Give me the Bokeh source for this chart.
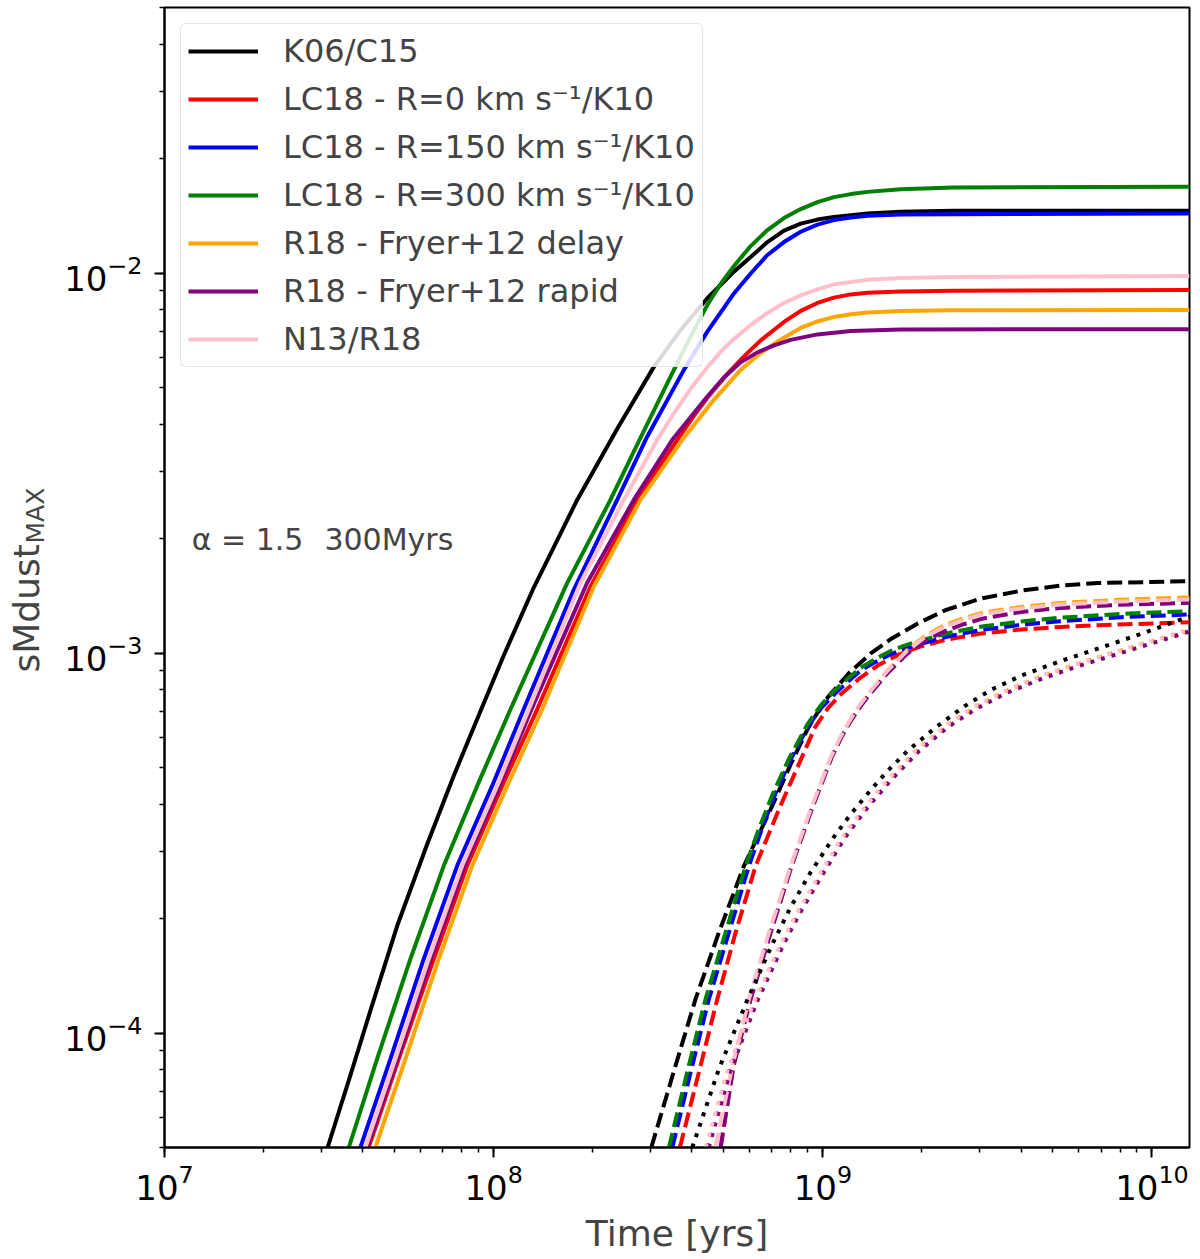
from bokeh.plotting import figure
from bokeh.models import Label, Title
from bokeh.embed import file_html
from bokeh.resources import INLINE

# values: time [yr] -> sMdust_MAX
# solid lines
t_k06 = [3.13e7, 3.67e7, 4.22e7, 5.09e7, 6.28e7, 7.56e7, 9.33e7, 1.073e8, 1.324e8, 1.795e8, 2.374e8, 3.067e8,
         3.70e8, 4.458e8, 5.37e8, 6.037e8, 6.785e8, 7.621e8, 8.567e8, 9.63e8, 1.081e9, 1.366e9, 1.725e9, 2.495e9, 1.3e10]
s_k06 = [5.0e-5, 7.74e-5, 1.144e-4, 1.913e-4, 3.14e-4, 4.75e-4, 7.38e-4, 9.86e-4, 1.488e-3, 2.534e-3, 3.894e-3, 5.666e-3,
         7.087e-3, 8.587e-3, 1.009e-2, 1.102e-2, 1.207e-2, 1.294e-2, 1.350e-2, 1.383e-2, 1.406e-2, 1.436e-2, 1.450e-2,
         1.459e-2, 1.459e-2]

t_lc0 = [4.171e7, 5.148e7, 6.576e7, 8.307e7, 1.061e8, 1.356e8, 1.969e8, 2.731e8, 3.613e8, 4.058e8, 4.458e8, 5.128e8,
         5.761e8, 6.475e8, 7.621e8, 8.567e8, 9.63e8, 1.081e9, 1.216e9, 1.366e9, 1.725e9, 2.495e9, 1.3e10]
s_lc0 = [5.0e-5, 8.56e-5, 1.567e-4, 2.756e-4, 4.472e-4, 7.114e-4, 1.497e-3, 2.534e-3, 3.642e-3, 4.212e-3, 4.697e-3, 5.431e-3,
         6.038e-3, 6.652e-3, 7.438e-3, 7.953e-3, 8.345e-3, 8.618e-3, 8.790e-3, 8.875e-3, 8.941e-3, 8.991e-3, 9.029e-3]

t_lc150 = [3.936e7, 4.857e7, 6.131e7, 7.745e7, 9.895e7, 1.234e8, 1.752e8, 2.374e8, 2.929e8, 3.784e8, 4.458e8, 5.37e8,
           6.037e8, 6.785e8, 7.621e8, 8.567e8, 9.63e8, 1.081e9, 1.216e9, 1.366e9, 1.725e9, 2.495e9, 1.3e10]
s_lc150 = [5.0e-5, 8.56e-5, 1.567e-4, 2.756e-4, 4.472e-4, 7.114e-4, 1.470e-3, 2.534e-3, 3.716e-3, 5.563e-3, 7.015e-3,
           8.84e-3, 9.976e-3, 1.116e-2, 1.207e-2, 1.285e-2, 1.342e-2, 1.379e-2, 1.400e-2, 1.415e-2, 1.427e-2, 1.429e-2,
           1.436e-2]

t_lc300 = [3.63e7, 4.425e7, 5.585e7, 7.053e7, 8.909e7, 1.125e8, 1.673e8, 2.265e8, 2.795e8, 3.528e8, 3.965e8, 4.458e8,
           4.892e8, 5.37e8, 6.037e8, 6.785e8, 7.621e8, 8.567e8, 9.63e8, 1.081e9, 1.216e9, 1.366e9, 1.725e9, 2.495e9, 1.3e10]
s_lc300 = [5.0e-5, 8.56e-5, 1.567e-4, 2.756e-4, 4.472e-4, 7.114e-4, 1.531e-3, 2.534e-3, 3.688e-3, 5.563e-3, 6.794e-3,
           8.245e-3, 9.363e-3, 1.044e-2, 1.178e-2, 1.298e-2, 1.396e-2, 1.474e-2, 1.538e-2, 1.585e-2, 1.614e-2, 1.636e-2,
           1.663e-2, 1.680e-2, 1.687e-2]

t_delay = [4.372e7, 5.395e7, 6.81e7, 8.603e7, 1.099e8, 1.404e8, 2.015e8, 2.795e8, 3.741e8, 4.668e8, 5.629e8, 6.384e8,
           7.278e8, 8.567e8, 9.63e8, 1.081e9, 1.216e9, 1.366e9, 1.725e9, 2.495e9, 1.3e10]
s_delay = [5.0e-5, 8.56e-5, 1.567e-4, 2.756e-4, 4.472e-4, 7.114e-4, 1.497e-3, 2.534e-3, 3.642e-3, 4.640e-3, 5.563e-3,
           6.110e-3, 6.604e-3, 7.174e-3, 7.460e-3, 7.668e-3, 7.798e-3, 7.879e-3, 7.953e-3, 7.985e-3, 7.998e-3]

t_rapid = [4.125e7, 5.101e7, 6.449e7, 8.151e7, 1.041e8, 1.303e8, 1.924e8, 2.667e8, 3.489e8, 4.458e8, 4.997e8, 5.629e8,
           6.325e8, 7.106e8, 7.988e8, 9.63e8, 1.216e9, 1.725e9, 1.3e10]
s_rapid = [5.0e-5, 8.56e-5, 1.567e-4, 2.756e-4, 4.472e-4, 7.114e-4, 1.531e-3, 2.534e-3, 3.642e-3, 4.733e-3, 5.302e-3,
           5.823e-3, 6.186e-3, 6.454e-3, 6.672e-3, 6.898e-3, 7.045e-3, 7.109e-3, 7.117e-3]

t_n13 = [4.076e7, 5.03e7, 6.35e7, 8.021e7, 1.025e8, 1.279e8, 1.836e8, 2.486e8, 3.141e8, 3.520e8, 3.965e8, 4.458e8,
         4.892e8, 5.248e8, 6.037e8, 6.785e8, 7.621e8, 8.567e8, 9.63e8, 1.081e9, 1.366e9, 1.725e9, 2.495e9, 1.3e10]
s_n13 = [5.0e-5, 8.56e-5, 1.567e-4, 2.756e-4, 4.472e-4, 7.114e-4, 1.531e-3, 2.534e-3, 3.642e-3, 4.264e-3, 4.960e-3,
         5.649e-3, 6.205e-3, 6.592e-3, 7.304e-3, 7.855e-3, 8.345e-3, 8.739e-3, 9.062e-3, 9.340e-3, 9.609e-3, 9.714e-3,
         9.772e-3, 9.826e-3]

# dashed lines
t_k06_dash = [3.012e8, 3.57e8, 4.106e8, 4.835e8, 5.761e8, 6.945e8, 7.988e8, 8.979e8, 9.65e8, 1.035e9, 1.207e9, 1.398e9,
              1.620e9, 1.943e9, 2.347e9, 3.021e9, 4.024e9, 5.289e9, 6.852e9, 1.3e10]
s_k06_dash = [5.0e-5, 8.22e-5, 1.23e-4, 1.842e-4, 2.756e-4, 3.884e-4, 5.101e-4, 6.302e-4, 6.986e-4, 7.648e-4, 8.899e-4,
              9.98e-4, 1.093e-3, 1.197e-3, 1.295e-3, 1.392e-3, 1.461e-3, 1.506e-3, 1.529e-3, 1.546e-3]

t_lc0_dash = [3.679e8, 4.253e8, 4.781e8, 5.436e8, 6.252e8, 7.36e8, 8.325e8, 9.47e8, 1.035e9, 1.134e9, 1.305e9, 1.479e9,
              1.707e9, 1.984e9, 2.354e9, 3.021e9, 4.024e9, 5.289e9, 6.876e9, 1.3e10]
s_lc0_dash = [5.0e-5, 8.22e-5, 1.23e-4, 1.842e-4, 2.756e-4, 3.884e-4, 4.948e-4, 6.38e-4, 7.156e-4, 7.789e-4, 8.636e-4,
              9.311e-4, 9.922e-4, 1.0413e-3, 1.083e-3, 1.126e-3, 1.154e-3, 1.172e-3, 1.184e-3, 1.206e-3]

t_lc150_dash = [3.489e8, 4.013e8, 4.508e8, 5.186e8, 5.966e8, 6.475e8, 7.165e8, 7.988e8, 9.06e8, 9.922e8, 1.087e9,
                1.190e9, 1.305e9, 1.438e9, 1.586e9, 1.762e9, 1.951e9, 2.448e9, 3.077e9, 3.996e9, 5.259e9, 8.048e9, 1.3e10]
s_lc150_dash = [5.0e-5, 8.22e-5, 1.23e-4, 1.842e-4, 2.756e-4, 3.38e-4, 4.254e-4, 5.257e-4, 6.457e-4, 7.199e-4, 7.812e-4,
                8.402e-4, 9.007e-4, 9.454e-4, 9.88e-4, 1.0245e-3, 1.0541e-3, 1.111e-3, 1.154e-3, 1.187e-3, 1.213e-3,
                1.243e-3, 1.264e-3]

t_lc300_dash = [3.407e8, 3.918e8, 4.404e8, 5.067e8, 5.83e8, 6.339e8, 7.039e8, 7.877e8, 8.979e8, 9.854e8, 1.079e9,
                1.182e9, 1.305e9, 1.438e9, 1.586e9, 1.762e9, 1.951e9, 2.448e9, 3.077e9, 3.996e9, 5.259e9, 8.048e9, 1.3e10]
s_lc300_dash = [5.0e-5, 8.22e-5, 1.23e-4, 1.842e-4, 2.756e-4, 3.38e-4, 4.254e-4, 5.257e-4, 6.497e-4, 7.287e-4, 7.932e-4,
                8.53e-4, 9.155e-4, 9.627e-4, 1.0074e-3, 1.0445e-3, 1.0752e-3, 1.133e-3, 1.177e-3, 1.211e-3, 1.239e-3,
                1.268e-3, 1.290e-3]

t_delay_dash = [4.892e8, 5.359e8, 6.037e8, 6.945e8, 8.043e8, 9.252e8, 9.922e8, 1.061e9, 1.134e9, 1.211e9, 1.295e9,
                1.384e9, 1.575e9, 1.802e9, 2.055e9, 2.354e9, 2.691e9, 3.077e9, 3.996e9, 5.259e9, 8.048e9, 1.3e10]
s_delay_dash = [5.0e-5, 8.22e-5, 1.23e-4, 1.842e-4, 2.756e-4, 3.884e-4, 4.547e-4, 5.289e-4, 5.969e-4, 6.615e-4, 7.244e-4,
                7.836e-4, 9.007e-4, 1.0165e-3, 1.113e-3, 1.186e-3, 1.237e-3, 1.279e-3, 1.322e-3, 1.355e-3, 1.382e-3,
                1.401e-3]

t_rapid_dash = [4.892e8, 5.359e8, 6.037e8, 6.945e8, 8.043e8, 9.252e8, 9.922e8, 1.061e9, 1.134e9, 1.211e9, 1.295e9,
                1.384e9, 1.575e9, 1.802e9, 2.055e9, 2.354e9, 2.691e9, 3.077e9, 3.996e9, 5.259e9, 8.048e9, 1.3e10]
s_rapid_dash = [5.0e-5, 8.22e-5, 1.23e-4, 1.842e-4, 2.756e-4, 3.884e-4, 4.547e-4, 5.289e-4, 5.969e-4, 6.594e-4, 7.199e-4,
                7.766e-4, 8.872e-4, 9.952e-4, 1.080e-3, 1.144e-3, 1.193e-3, 1.234e-3, 1.283e-3, 1.315e-3, 1.341e-3,
                1.356e-3]

t_n13_dash = [4.725e8, 5.311e8, 5.966e8, 6.862e8, 7.988e8, 9.189e8, 9.854e8, 1.054e9, 1.126e9, 1.203e9, 1.286e9,
              1.378e9, 1.575e9, 1.802e9, 2.055e9, 2.354e9, 2.691e9, 3.077e9, 3.996e9, 5.259e9, 8.048e9, 1.3e10]
s_n13_dash = [5.0e-5, 8.22e-5, 1.23e-4, 1.842e-4, 2.756e-4, 3.884e-4, 4.547e-4, 5.289e-4, 5.969e-4, 6.615e-4, 7.244e-4,
              7.836e-4, 9.007e-4, 1.0134e-3, 1.1063e-3, 1.176e-3, 1.226e-3, 1.268e-3, 1.311e-3, 1.343e-3, 1.367e-3,
              1.384e-3]

# dotted lines
t_k06_dot = [4.013e8, 4.835e8, 5.899e8, 7.027e8, 7.988e8, 9.189e8, 1.082e9, 1.216e9, 1.378e9, 1.564e9, 1.802e9,
             2.205e9, 2.693e9, 3.240e9, 4.024e9, 5.289e9, 6.876e9, 9.26e9, 1.3e10]
s_k06_dot = [5.0e-5, 8.057e-5, 1.223e-4, 1.716e-4, 2.147e-4, 2.653e-4, 3.289e-4, 3.769e-4, 4.296e-4, 4.874e-4, 5.516e-4,
             6.38e-4, 7.244e-4, 8.003e-4, 8.738e-4, 9.539e-4, 1.029e-3, 1.123e-3, 1.249e-3]

t_delay_dot = [4.45e8, 5.18e8, 6.24e8, 7.52e8, 8.53e8, 9.73e8, 1.155e9, 1.355e9, 1.592e9, 1.936e9, 2.379e9, 2.888e9,
               3.556e9, 4.646e9, 6.079e9, 8.725e9, 1.3e10]
s_delay_dot = [5.0e-5, 7.96e-5, 1.209e-4, 1.716e-4, 2.109e-4, 2.559e-4, 3.269e-4, 3.932e-4, 4.644e-4, 5.551e-4, 6.437e-4,
               7.199e-4, 7.908e-4, 8.712e-4, 9.425e-4, 1.038e-3, 1.147e-3]

t_rapid_dot = [4.499e8, 5.237e8, 6.308e8, 7.604e8, 8.622e8, 9.833e8, 1.167e9, 1.369e9, 1.609e9, 1.957e9, 2.404e9,
               2.920e9, 3.594e9, 4.695e9, 6.143e9, 8.816e9, 1.3e10]
s_rapid_dot = [5.0e-5, 7.962e-5, 1.209e-4, 1.716e-4, 2.109e-4, 2.559e-4, 3.269e-4, 3.932e-4, 4.629e-4, 5.516e-4, 6.399e-4,
               7.134e-4, 7.836e-4, 8.607e-4, 9.311e-4, 1.0257e-3, 1.140e-3]

t_n13_dot = [4.404e8, 5.128e8, 6.178e8, 7.447e8, 8.443e8, 9.63e8, 1.142e9, 1.341e9, 1.575e9, 1.916e9, 2.354e9, 2.857e9,
             3.518e9, 4.598e9, 6.015e9, 8.634e9, 1.3e10]
s_n13_dot = [5.0e-5, 7.962e-5, 1.209e-4, 1.716e-4, 2.109e-4, 2.559e-4, 3.269e-4, 3.932e-4, 4.644e-4, 5.551e-4, 6.437e-4,
             7.199e-4, 7.908e-4, 8.712e-4, 9.425e-4, 1.038e-3, 1.154e-3]

FONT = "DejaVu Sans"
LW = 4

p = figure(
    frame_width=1025,
    frame_height=1140,
    x_axis_type="log",
    y_axis_type="log",
    x_range=(1e7, 1.3e10),
    y_range=(5e-5, 5e-2),
    x_axis_label="Time [yrs]",
    output_backend="svg",
    toolbar_location=None,
    min_border_left=164,
    min_border_right=9,
    min_border_top=7,
    min_border_bottom=104,
)

# solid curves carry the legend
solid = [
    (t_k06, s_k06, "black", "K06/C15"),
    (t_lc0, s_lc0, "red", "LC18 - R=0 km s\u207b\u00b9/K10"),
    (t_lc150, s_lc150, "blue", "LC18 - R=150 km s\u207b\u00b9/K10"),
    (t_lc300, s_lc300, "green", "LC18 - R=300 km s\u207b\u00b9/K10"),
    (t_delay, s_delay, "orange", "R18 - Fryer+12 delay"),
    (t_rapid, s_rapid, "purple", "R18 - Fryer+12 rapid"),
    (t_n13, s_n13, "pink", "N13/R18"),
]
for t, s, c, lab in solid:
    p.line(t, s, line_color=c, line_width=LW, legend_label=lab)

dashed = [
    (t_k06_dash, s_k06_dash, "black"),
    (t_lc0_dash, s_lc0_dash, "red"),
    (t_lc150_dash, s_lc150_dash, "blue"),
    (t_lc300_dash, s_lc300_dash, "green"),
    (t_delay_dash, s_delay_dash, "orange"),
    (t_rapid_dash, s_rapid_dash, "purple"),
    (t_n13_dash, s_n13_dash, "pink"),
]
for t, s, c in dashed:
    p.line(t, s, line_color=c, line_width=LW, line_dash="15 6")

dotted = [
    (t_k06_dot, s_k06_dot, "black"),
    (t_delay_dot, s_delay_dot, "orange"),
    (t_rapid_dot, s_rapid_dot, "purple"),
    (t_n13_dot, s_n13_dot, "pink"),
]
for t, s, c in dotted:
    p.line(t, s, line_color=c, line_width=LW, line_dash="4 7")

# annotation inside the frame
p.add_layout(Label(x=1.21e7, y=1.99e-3, text="\u03b1 = 1.5\u2002\u2009300Myrs",
                   text_font=FONT, text_font_size="30px", text_baseline="alphabetic"))

# y label "sMdust" with subscript "MAX", as two titles on the left side
sub = Title(text="MAX", align="left", offset=604, vertical_align="bottom", standoff=24,
            text_font=FONT, text_font_size="25px", text_font_style="normal")
main = Title(text="sMdust", align="left", offset=475, vertical_align="bottom", standoff=-81,
             text_font=FONT, text_font_size="36px", text_font_style="normal")
p.add_layout(sub, "left")
p.add_layout(main, "left")

p.xgrid.grid_line_color = None
p.ygrid.grid_line_color = None
p.outline_line_color = "black"
p.outline_line_width = 2

for ax in (p.xaxis, p.yaxis):
    ax.axis_line_width = 2
    ax.major_tick_line_width = 2
    ax.minor_tick_line_width = 1.5
    ax.major_tick_out = 10
    ax.minor_tick_out = 5
    ax.major_tick_in = 0
    ax.minor_tick_in = 0
    ax.major_label_text_font = FONT
    ax.major_label_text_font_size = "34px"
    ax.major_label_text_color = "black"

p.xaxis.major_label_standoff = 6
p.yaxis.major_label_standoff = 12
p.xaxis.axis_label_text_font = FONT
p.xaxis.axis_label_text_font_size = "36px"
p.xaxis.axis_label_text_font_style = "normal"
p.xaxis.axis_label_standoff = 10

lg = p.legend[0]
lg.location = "top_left"
lg.margin = 16
lg.padding = 7
lg.spacing = 8
lg.glyph_width = 70
lg.glyph_height = 40
lg.label_height = 40
lg.label_standoff = 25
lg.label_text_font = FONT
lg.label_text_font_size = "32px"
lg.border_line_color = "#cccccc"
lg.border_line_width = 1.5
lg.background_fill_alpha = 0.85
if "border_radius" in lg.properties():
    lg.border_radius = 6

open("out.html", "w").write(file_html(p, INLINE))
